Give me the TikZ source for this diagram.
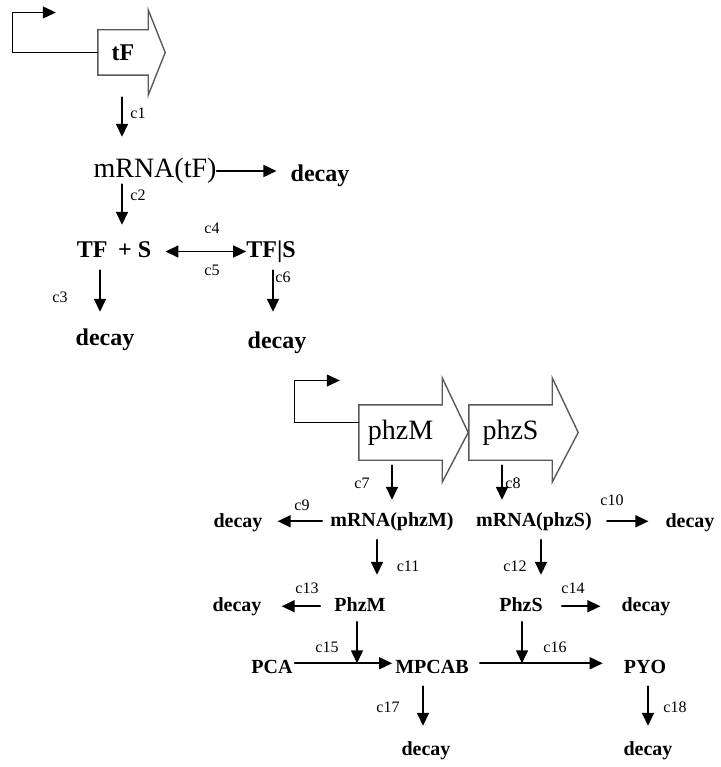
\documentclass[tikz,border=0pt]{standalone}
\usepackage{fontspec}
\setmainfont{Liberation Serif}
\usetikzlibrary{arrows.meta}

\begin{document}
\begin{tikzpicture}[x=1pt,y=-1pt,line cap=round,
    conn/.style={-{Triangle[length=13pt,width=12pt]},line width=1.6pt},
    twoway/.style={{Triangle[length=13pt,width=12pt]}-{Triangle[length=13pt,width=12pt]},line width=1.6pt},
    geneout/.style={draw=black!65,line width=1.4pt,line join=miter},
    genetxt/.style={inner sep=0pt,minimum width=83pt,minimum height=55pt,font=\fontsize{28}{30}\selectfont},
    bigtxt/.style={font=\fontsize{28}{30}\selectfont,inner sep=0pt,text height=20pt,text depth=6pt,anchor=base},
    uptxt/.style={font=\fontsize{24}{26}\selectfont\bfseries,inner sep=0pt,text height=16pt,text depth=5pt,anchor=base},
    lowtxt/.style={font=\fontsize{20}{22}\selectfont\bfseries,inner sep=0pt,text height=14pt,text depth=4.5pt,anchor=base},
    ratelbl/.style={font=\fontsize{16}{18}\selectfont,inner sep=0pt}]
  \useasboundingbox (0,0) rectangle (720,767);

  % ---------------- tF gene, its mRNA and the TF|S complex ----------------
  \node[inner sep=0pt,minimum width=50pt,minimum height=45pt,font=\fontsize{24}{26}\selectfont\bfseries] (gtF) at (123,52.5) {tF};
  \draw[geneout] (gtF.south west) -- (gtF.north west) -- (gtF.north east) -- ++(0,-20)
    -- ([xshift=17pt]gtF.east) -- ([yshift=-20pt]gtF.south east) -- (gtF.south east) -- cycle;
  \draw[conn,line width=1.2pt] (gtF.west) -- ++(-85,0) -- ++(0,-40) -- ++(43,0);

  \node[bigtxt] (mtF) at (155,178) {mRNA(tF)};
  \node[uptxt] (dtF) at (320,182) {decay};
  \node[uptxt] (tfs) at (114,257) {TF\hspace{0.45em}+ S};
  \node[uptxt] (tfS) at (271,257) {TF|S};
  \node[uptxt] (d3) at (105,345) {decay};
  \node[uptxt] (d6) at (277,348) {decay};

  \draw[conn,shorten <=22pt,shorten >=21pt] ([xshift=-1pt]gtF.south) -- ([xshift=-1pt]gtF.south |- mtF.north);
  \draw[conn,shorten >=14pt] (mtF.east) -- (mtF.east -| dtF.west);
  \draw[conn,shorten >=16pt] ([xshift=-33pt]mtF.south) -- ([xshift=-33pt]mtF.south |- tfs.north);
  \draw[twoway,shorten <=14pt] (tfs.east) -- (tfs.east -| tfS.west);
  \draw[conn,shorten <=8pt,shorten >=17pt] ([xshift=-14pt]tfs.south) -- ([xshift=-14pt]tfs.south |- d3.north);
  \draw[conn,shorten <=8pt,shorten >=20pt] ([xshift=2pt]tfS.south) -- ([xshift=2pt]tfS.south |- d6.north);

  \foreach \n/\x/\y in {1/138/113,2/138/195,3/60/297,4/212/228,5/212/270,6/283/277}
    \node[ratelbl] (lc\n) at (\x,\y) {c\n};

  % ---------------- phzM / phzS operon ----------------
  \node[genetxt] (gM) at (400.5,432.5) {phzM};
  \node[genetxt] (gS) at (510.5,432.5) {phzS};
  \foreach \g in {gM,gS}
    \draw[geneout] (\g.south west) -- (\g.north west) -- (\g.north east) -- ++(0,-27)
      -- ([xshift=26pt]\g.east) -- ([yshift=-22pt]\g.south east) -- (\g.south east) -- cycle;
  \draw[conn,line width=1.2pt] ([yshift=10pt]gM.west) -- ++(-64,0) -- ++(0,-42) -- ++(45,0);

  \node[lowtxt] (mM) at (392,526) {mRNA(phzM)};
  \node[lowtxt] (mS) at (534,526) {mRNA(phzS)};
  \node[lowtxt] (d9) at (238,527) {decay};
  \node[lowtxt] (d10) at (690,527) {decay};
  \node[lowtxt] (pM) at (360,611) {PhzM};
  \node[lowtxt] (pS) at (521,611) {PhzS};
  \node[lowtxt] (d13) at (237,611) {decay};
  \node[lowtxt] (d14) at (646,611) {decay};
  \node[lowtxt] (pca) at (272,673) {PCA};
  \node[lowtxt] (mpcab) at (432,673) {MPCAB};
  \node[lowtxt] (pyo) at (645,673) {PYO};
  \node[lowtxt] (d17) at (426,755) {decay};
  \node[lowtxt] (d18) at (648,755) {decay};

  % transcription, translation and decay
  \draw[conn,shorten <=5pt,shorten >=12pt] ([xshift=-8.5pt]gM.south) -- ([xshift=-8.5pt]gM.south |- mM.north);
  \draw[conn,shorten <=5pt,shorten >=12pt] ([xshift=-8.5pt]gS.south) -- ([xshift=-8.5pt]gS.south |- mS.north);
  \draw[conn,shorten <=8pt,shorten >=15pt] (mM.west) -- (mM.west -| d9.east);
  \draw[conn,shorten <=15pt,shorten >=17pt] (mS.east) -- (mS.east -| d10.west);
  \draw[conn,shorten <=9pt,shorten >=22pt] ([xshift=-15pt]mM.south) -- ([xshift=-15pt]mM.south |- pM.north);
  \draw[conn,shorten <=9pt,shorten >=22pt] ([xshift=7pt]mS.south) -- ([xshift=7pt]mS.south |- pS.north);
  \draw[conn,shorten <=14pt,shorten >=20pt] (pM.west) -- (pM.west -| d13.east);
  \draw[conn,shorten <=19pt,shorten >=21pt] (pS.east) -- (pS.east -| d14.west);

  % PCA -> MPCAB -> PYO, catalysed by PhzM and PhzS
  \draw[conn,shorten <=2pt,shorten >=3pt] ([yshift=5pt]pca.east) -- ([yshift=5pt]pca.east -| mpcab.west);
  \draw[conn,shorten <=11pt,shorten >=21pt] ([yshift=5pt]mpcab.east) -- ([yshift=5pt]mpcab.east -| pyo.west);
  \draw[conn,shorten <=6pt] ([xshift=-3pt]pM.south) -- ([xshift=-3pt,yshift=5pt]pM.south |- pca.east);
  \draw[conn,shorten <=6pt] ([xshift=1pt]pS.south) -- ([xshift=1pt,yshift=5pt]pS.south |- pca.east);
  \draw[conn,shorten <=8.5pt,shorten >=15pt] ([xshift=-9pt]mpcab.south) -- ([xshift=-9pt]mpcab.south |- d17.north);
  \draw[conn,shorten <=8.5pt,shorten >=15pt] ([xshift=3pt]pyo.south) -- ([xshift=3pt]pyo.south |- d18.north);

  \foreach \n/\x/\y in {7/362/483,8/513/483,9/302/505,10/612/500,11/408/566,12/515/566,13/307/588,14/573/588,15/327/647,16/555/647,17/388/707,18/675/707}
    \node[ratelbl] (lc\n) at (\x,\y) {c\n};
\end{tikzpicture}
\end{document}
